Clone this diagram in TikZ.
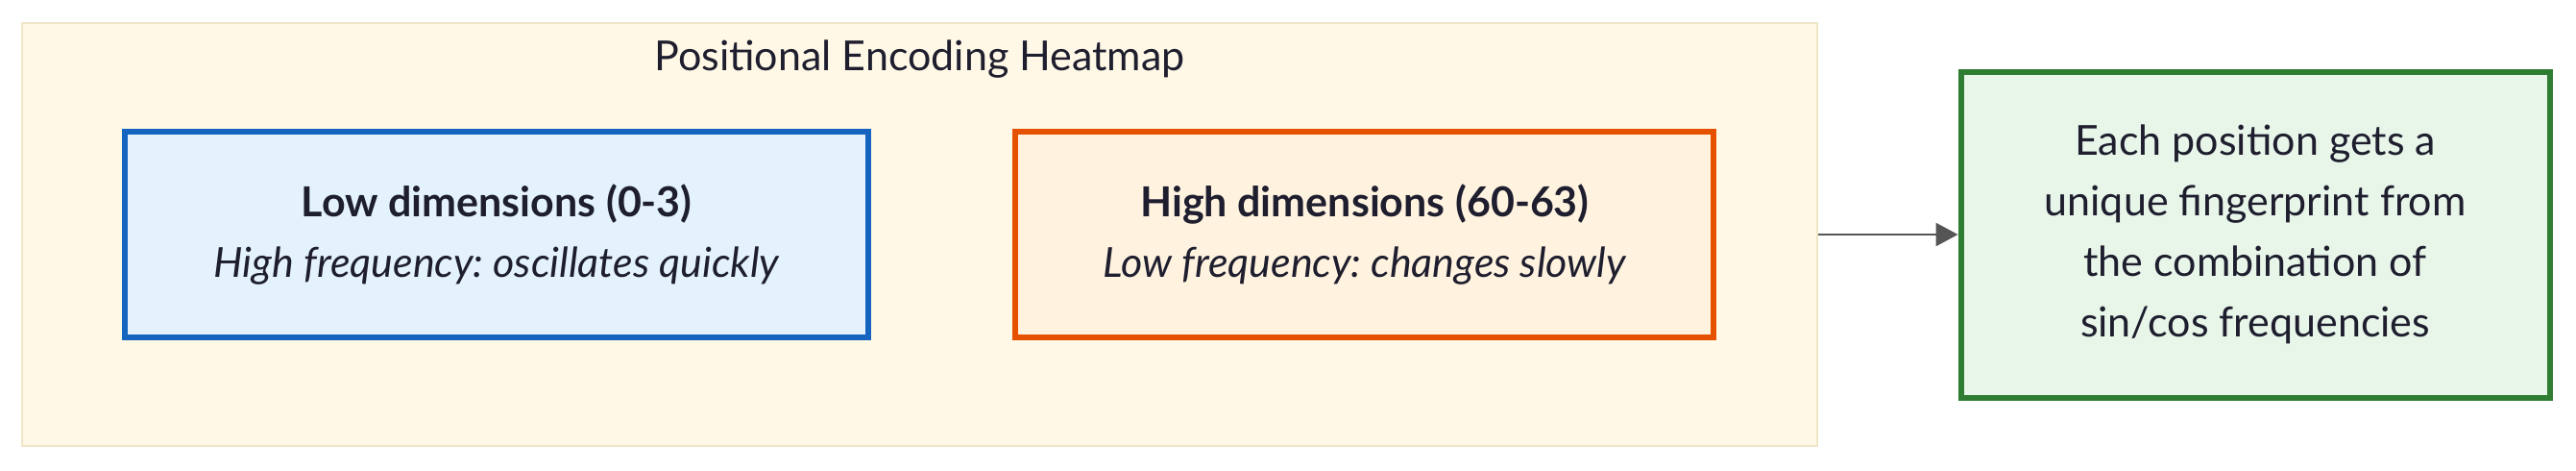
\documentclass[tikz,border=0pt]{standalone}
\usepackage{fontspec}
\setmainfont{Lato}
\usepackage{tikz}
\usetikzlibrary{arrows.meta, backgrounds, fit, positioning}
\definecolor{clusterfill}{HTML}{FFF8E6}
\definecolor{clusterline}{HTML}{EFE6C6}
\definecolor{lowfill}{HTML}{E3F2FD}
\definecolor{lowline}{HTML}{1565C0}
\definecolor{highfill}{HTML}{FFF3E0}
\definecolor{highline}{HTML}{E65100}
\definecolor{fpfill}{HTML}{E8F5E9}
\definecolor{fpline}{HTML}{2E7D32}
\definecolor{ink}{HTML}{1E1E2E}
\definecolor{wire}{HTML}{555555}
\tikzstyle{band}=[rectangle, line width=3pt, minimum height=107pt, align=center, text=ink, font=\fontsize{21.5}{31.5}\selectfont]
\tikzstyle{result}=[rectangle, line width=3pt, draw=fpline, fill=fpfill, align=center, text=ink, font=\fontsize{21.5}{31.5}\selectfont]
\frenchspacing

\begin{document}
\begin{tikzpicture}[>={Triangle[length=11.5pt, width=12pt]}]
    \useasboundingbox (0,0) rectangle (1341pt,-244.5pt);

    \node[band, draw=lowline, fill=lowfill, minimum width=386.75pt] (low) at (258.6pt,-122pt)
          {\textbf{Low dimensions (0-3)}\\\textit{High frequency: oscillates quickly}};
    \node[band, draw=highline, fill=highfill, minimum width=363.5pt] (high) [right=73.75pt of low]
          {\textbf{High dimensions (60-63)}\\\textit{Low frequency: changes slowly}};

    \begin{scope}[on background layer]
      \node[draw=clusterline, fill=clusterfill, line width=1pt, inner xsep=52.25pt, inner ysep=55pt,
            fit=(low)(high)] (cluster) {};
    \end{scope}
    \node[inner sep=0, text=ink, font=\fontsize{21.5}{31.5}\selectfont] (title) [below=9pt of cluster.north]
          {Positional Encoding Heatmap};

    \node[result, minimum width=306.5pt, minimum height=169.5pt] (fp) [right=72.8pt of cluster]
          {Each position gets a\\unique fingerprint from\\the combination of\\sin/cos frequencies};

    \draw[->, wire, line width=1.25pt] (cluster) -- (fp);
\end{tikzpicture}
\end{document}
